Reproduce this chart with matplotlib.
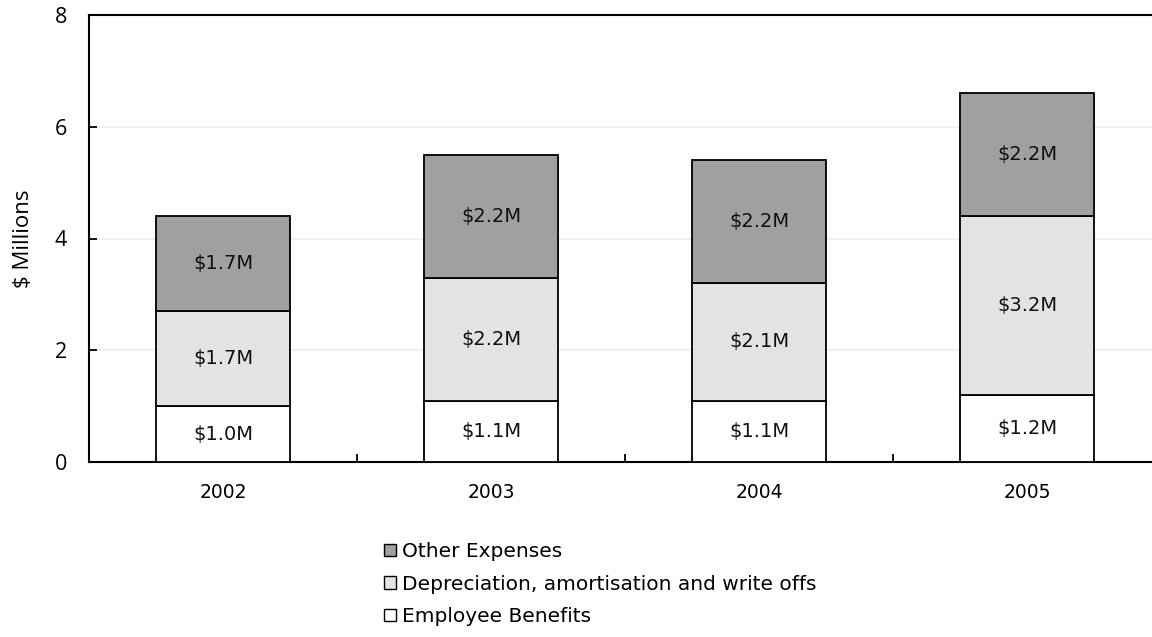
import matplotlib
matplotlib.use("Agg")
import matplotlib.pyplot as plt
from matplotlib.patches import Patch
import numpy as np

plt.rcParams["font.family"] = ["DejaVu Sans"]

years = ["2002", "2003", "2004", "2005"]
employee = [1.0, 1.1, 1.1, 1.2]
depreciation = [1.7, 2.2, 2.1, 3.2]
other = [1.7, 2.2, 2.2, 2.2]
series_names = ["Employee Benefits", "Depreciation, amortisation and write offs", "Other Expenses"]
colors = ["#ffffff", "#e3e3e3", "#a0a0a0"]
yticks = [0, 2, 4, 6, 8]

fig = plt.figure(figsize=(11.52, 6.37), dpi=100)
ax = fig.add_axes([89/1152, 1-462/637, 1072/1152, 447/637])

x = np.arange(len(years))
bottom = np.zeros(len(years))
for vals, col in zip([employee, depreciation, other], colors):
    v = np.array(vals)
    ax.bar(x, v, width=0.5, bottom=bottom, color=col, edgecolor="black", linewidth=1.3, zorder=3)
    for xi, b, vi in zip(x, bottom, v):
        ax.text(xi, b + vi/2, f"${vi:.1f}M", ha="center", va="center", fontsize=14,
                color="#111111", zorder=4)
    bottom = bottom + v

ax.set_xlim(-0.5, 3.5)
ax.set_ylim(0, 8)
ax.set_yticks(yticks)
ax.set_yticklabels([str(t) for t in yticks], fontsize=15.5, family="Open Sans")
ax.set_xticks(x)
ax.set_xticklabels(years, fontsize=13.5)
ax.set_xticks([0.5, 1.5, 2.5], minor=True)
ax.tick_params(axis="x", which="major", length=0, pad=15)
ax.tick_params(axis="x", which="minor", direction="in", length=6, width=1.3)
ax.tick_params(axis="y", direction="in", length=6, width=1.3, pad=16)
for yv in [2, 4, 6]:
    ax.axhline(yv, color="#efefef", linewidth=1.5, zorder=1)
for s in ["top", "left", "bottom"]:
    ax.spines[s].set_linewidth(1.5)
ax.spines["right"].set_visible(False)
ax.set_ylabel("$ Millions", fontsize=16, labelpad=15, family="Open Sans")

handles = [Patch(facecolor=c, edgecolor="black", linewidth=1.0, label=n)
           for c, n in zip(colors[::-1], series_names[::-1])]
leg = fig.legend(handles=handles, loc="upper left", bbox_to_anchor=(366/1152, 1-524/637),
                 frameon=False, handlelength=0.6, handleheight=0.6,
                 handletextpad=0.3, labelspacing=0.67, prop={"size": 14.5})

fig.savefig("out.png", dpi=100)
